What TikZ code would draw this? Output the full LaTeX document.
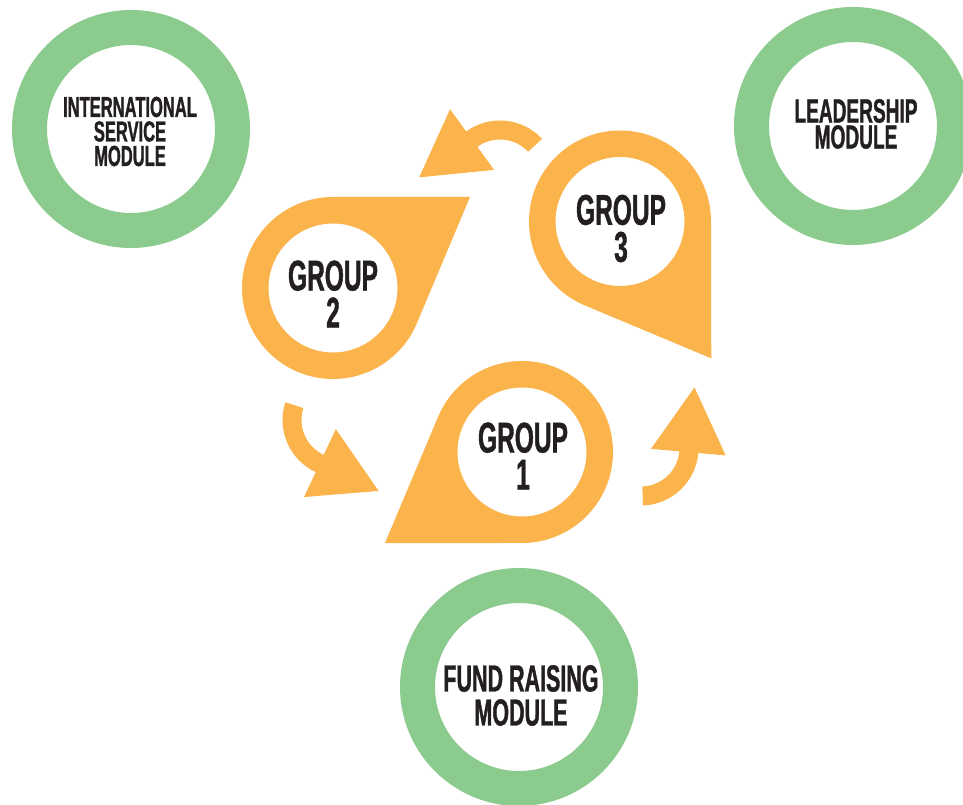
\documentclass[tikz,border=0pt]{standalone}
\usepackage{fontspec}
\newfontfamily\condfont[FakeStretch=0.57,FakeBold=1]{Liberation Sans}
\usetikzlibrary{calc}
\definecolor{pinorange}{HTML}{FBB34C}
\definecolor{ringgreen}{HTML}{8CCB8E}
\definecolor{inkdark}{HTML}{231F20}
\tikzset{
  grouplabel/.style={align=center, inner sep=0pt, text=inkdark,
    font=\condfont\bfseries\fontsize{43}{37}\selectfont},
  modulelabel/.style 2 args={align=center, inner sep=0pt, text=inkdark,
    font=\condfont\bfseries\fontsize{#1}{#2}\selectfont}
}
% teardrop pin: centre, tip direction
\newcommand\pin[2]{%
  \fill[pinorange, even odd rule] ($(#1)+(#2:164.5pt)$) -- ($(#1)+(#2+56.4:91pt)$)
    arc[start angle=#2+56.4, delta angle=247.2, radius=91pt] -- cycle
    (#1) circle[radius=64.5pt];}
% curved arrow: arc centre, tail angle
\newcommand\turnarrow[2]{%
  \fill[pinorange] ($(#1)+(#2:57.5pt)$) arc[start angle=#2, delta angle=83, radius=57.5pt]
    -- ($(#1)+(#2+83:85pt)$) -- ($(#1)+(#2+83:48pt)+(#2+173:65pt)$)
    -- ($(#1)+(#2+83:10pt)$) -- ($(#1)+(#2+83:38.5pt)$)
    arc[start angle=#2+83, delta angle=-83, radius=38.5pt] -- cycle;}
\begin{document}
\begin{tikzpicture}[x=1pt,y=1pt]
    \useasboundingbox (0,0) rectangle (963,805);
    % module rings
    \foreach \x/\y in {131/676, 853/679, 519/118}
        \fill[ringgreen, even odd rule] (\x,\y) circle[radius=119pt] (\x,\y) circle[radius=84pt];
    \node[modulelabel={29}{24.5}] (intl) at (130,673.5) {INTERNATIONAL\\SERVICE\\MODULE};
    \node[modulelabel={33.5}{26}] (lead) at (856,681) {LEADERSHIP\\MODULE};
    \node[modulelabel={37.7}{34}] (fund) at (521,109.5) {FUND RAISING\\MODULE};
    % group pins
    \coordinate (p1) at (522,353);
    \coordinate (p2) at (333,517);
    \coordinate (p3) at (620,583.5);
    \pin{p1}{213.6}
    \pin{p2}{33.6}
    \pin{p3}{303.7}
    \node[grouplabel] (g1) at (523,349) {GROUP\\1};
    \node[grouplabel] (g2) at (333,511) {GROUP\\2};
    \node[grouplabel] (g3) at (621,576.5) {GROUP\\3};
    % arrows 2 -> 1 -> 3 -> 2
    \coordinate (t21) at (340,385);
    \coordinate (t13) at (641,357);
    \coordinate (t32) at (500,627);
    \turnarrow{t21}{162}
    \turnarrow{t13}{272}
    \turnarrow{t32}{43}
\end{tikzpicture}
\end{document}
